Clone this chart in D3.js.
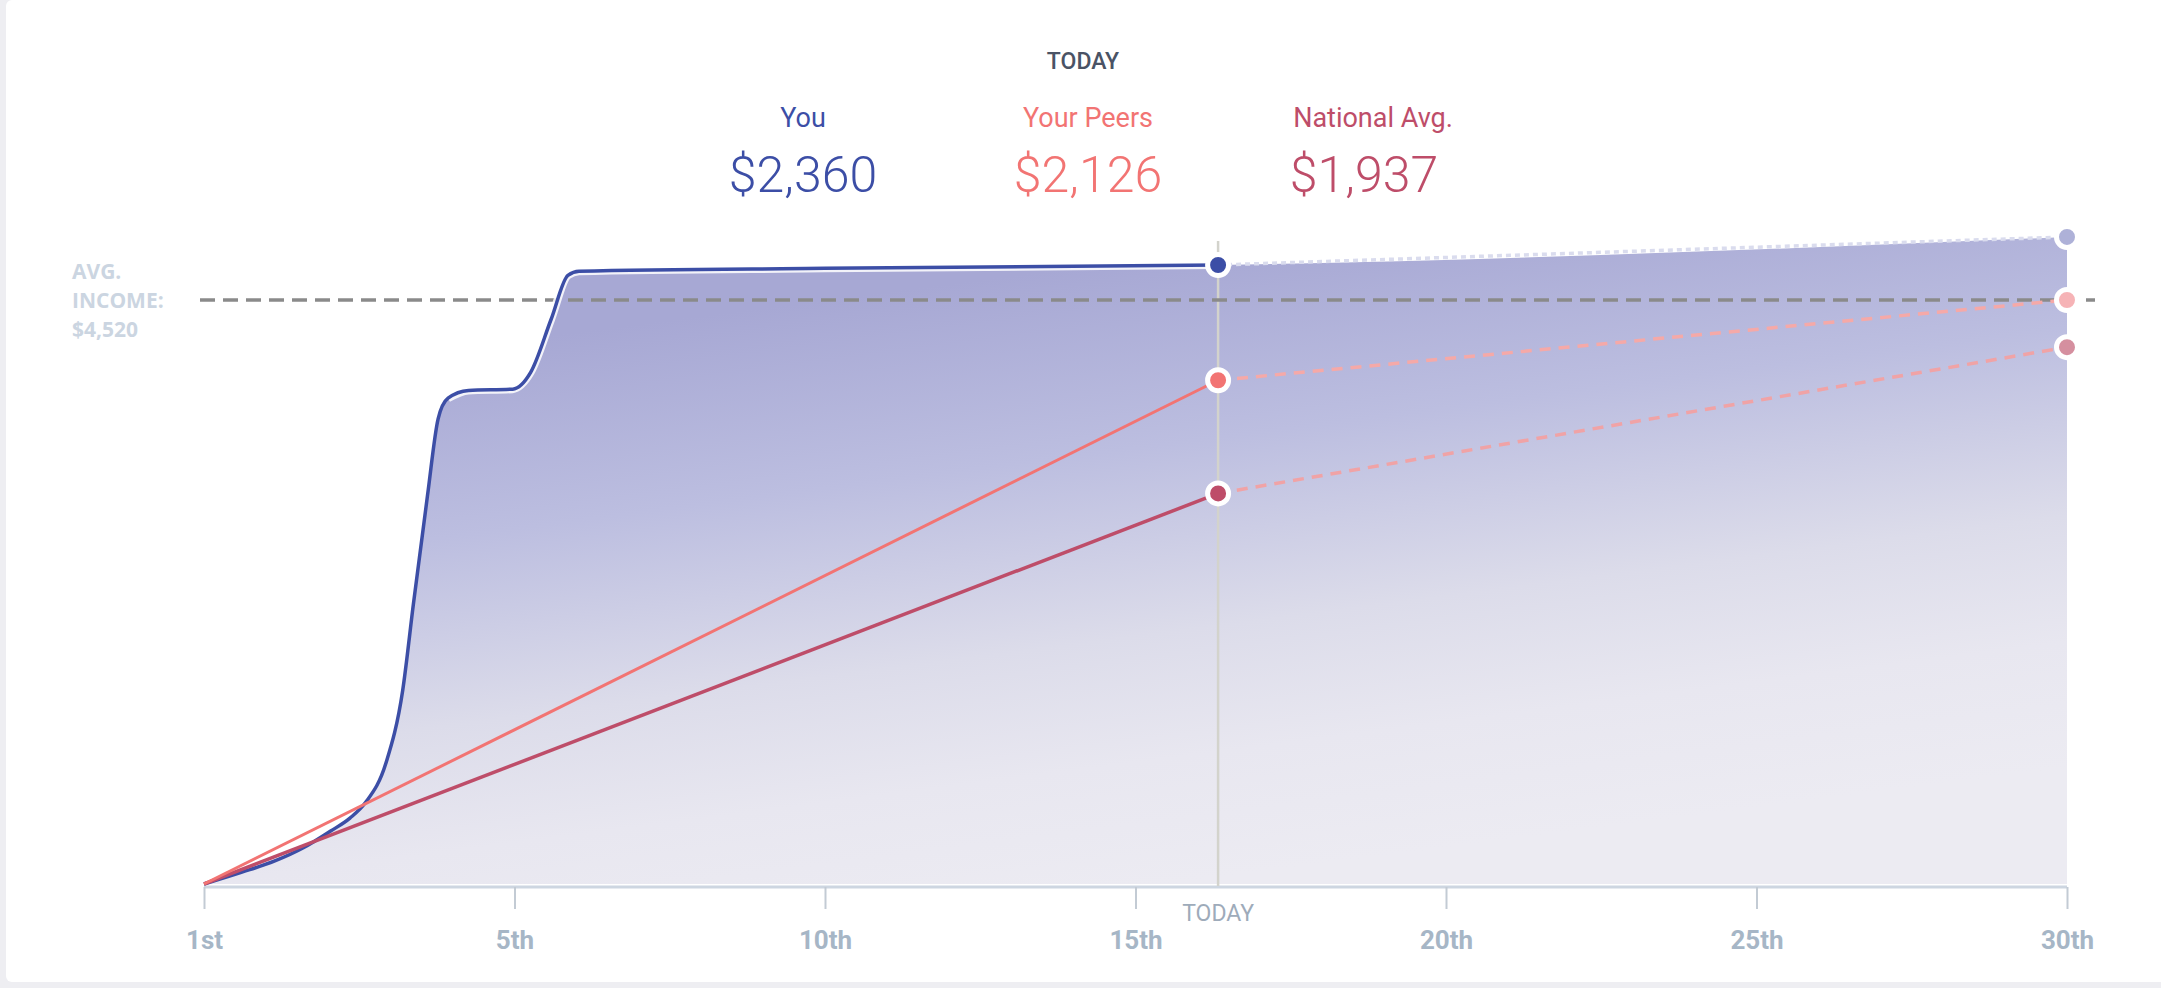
<!DOCTYPE html>
<html>
<head>
<meta charset="utf-8">
<script src="https://cdn.jsdelivr.net/npm/d3@7"></script>
<style>
  html, body { margin: 0; padding: 0; background: #eeeef2; }
  svg { display: block; }
</style>
</head>
<body>
<svg id="chart" width="2161" height="988"></svg>
<script>
// ---------- data ----------
const dayTicks = [0, 5, 10, 15, 20, 25, 30];
const tickLabels = ["1st", "5th", "10th", "15th", "20th", "25th", "30th"];
const todayDay = 16.33;
const endDay = 30;

const seriesNames = ["You", "Your Peers", "National Avg."];
const headerValues = [2360, 2126, 1937];
const avgIncome = 4520;

// "You" actual curve (day index, cumulative $)
const youDays   = [0, 0.6, 1.15, 1.6, 2.04, 2.35, 2.6, 2.93, 3.2, 3.37, 3.6, 3.77, 3.93, 4.26, 4.97, 5.26, 5.59, 5.86, 6.04, 10, 16.33];
const youValues = [0, 90, 180, 280, 410, 510, 630, 936, 1500, 2159, 3010, 3600, 3760, 3820, 3830, 3960, 4371, 4711, 4743, 4765, 4791];
const youProjected = [4791, 5008];

const peersValues = [0, 3899];
const peersProjected = [3899, 4520];
const nationalValues = [0, 3023];
const nationalProjected = [3023, 4155];

// ---------- setup ----------
const svg = d3.select("#chart");
const defs = svg.append("defs");

svg.append("rect").attr("x", 6).attr("y", 0).attr("width", 2161).attr("height", 982)
  .attr("rx", 6).attr("fill", "#ffffff");

const x = d3.scaleLinear().domain([0, 30]).range([204, 2067]);
const y = d3.scaleLinear().domain([0, avgIncome]).range([884, 300]);

const colYou = "#3c4ea6", colPeers = "#f27473", colNat = "#be4d69";

// gradient for area
const grad = defs.append("linearGradient").attr("id", "areaGrad")
  .attr("gradientUnits", "userSpaceOnUse")
  .attr("x1", 400).attr("y1", 355).attr("x2", 480).attr("y2", 973);
[[0, "#a7a8d4"], [0.3, "#bcbee0"], [0.6, "#dcdcea"], [0.8, "#e8e7f0"], [1, "#ecebf2"]]
  .forEach(([o, c]) => grad.append("stop").attr("offset", o).attr("stop-color", c));

// ---------- area ----------
const youPts = youDays.map((d, i) => [d, youValues[i]]);
const projPts = [[todayDay, youProjected[0]], [endDay, youProjected[1]]];
const allPts = youPts.concat(projPts.slice(1));

const area = d3.area().x(d => x(d[0])).y0(y(0)).y1(d => y(d[1])).curve(d3.curveMonotoneX);
svg.append("path").datum(allPts).attr("d", area).attr("fill", "url(#areaGrad)");

// ---------- axis ----------
const axisG = svg.append("g").attr("transform", "translate(0,887)");
const xAxis = d3.axisBottom(x).tickValues(dayTicks).tickSize(22).tickPadding(22)
  .tickFormat((d, i) => tickLabels[i]);
axisG.call(xAxis);
axisG.select(".domain").attr("stroke", "#cdd6e1").attr("stroke-width", 3)
  .attr("d", `M${x(0)},0H${x(30)}`);
axisG.selectAll(".tick line").attr("stroke", "#c3cbd4").attr("stroke-width", 2);
axisG.selectAll(".tick text").attr("fill", "#a6b6c6")
  .attr("font-family", "'Roboto', sans-serif")
  .attr("font-weight", "bold").attr("font-size", 26);

// today vertical line
svg.append("line").attr("x1", x(todayDay)).attr("x2", x(todayDay))
  .attr("y1", 241).attr("y2", 886).attr("stroke", "#d3d3cc").attr("stroke-width", 2.5);
svg.append("text").attr("x", x(todayDay)).attr("y", 921).attr("text-anchor", "middle")
  .attr("font-family", "'Roboto', sans-serif")
  .attr("font-size", 23).attr("fill", "#9eabba").text("TODAY");

// avg income dashed line
svg.append("line").attr("x1", 200).attr("x2", 2095).attr("y1", y(avgIncome)).attr("y2", y(avgIncome))
  .attr("stroke", "#8a8a8a").attr("stroke-width", 3.5).attr("stroke-dasharray", "15,8");
["AVG.", "INCOME:", "$" + d3.format(",")(avgIncome)].forEach((t, i) =>
  svg.append("text").attr("x", 72).attr("y", y(avgIncome) - 21 + i * 29)
    .attr("font-family", "'Open Sans', sans-serif").attr("font-weight", "bold")
    .attr("font-size", 21).attr("fill", "#cbd5e1").text(t));

// ---------- lines ----------
const line = d3.line().x(d => x(d[0])).y(d => y(d[1]));
const curveLine = d3.line().x(d => x(d[0])).y(d => y(d[1])).curve(d3.curveMonotoneX);

// projections
svg.append("path").datum(projPts).attr("d", line).attr("fill", "none")
  .attr("stroke", "#dadcee").attr("stroke-width", 3.5).attr("stroke-dasharray", "5,4");
svg.append("path").datum([[todayDay, peersProjected[0]], [endDay, peersProjected[1]]]).attr("d", line)
  .attr("fill", "none").attr("stroke", "#f5a9a8").attr("stroke-width", 3.5).attr("stroke-dasharray", "11,8");
svg.append("path").datum([[todayDay, nationalProjected[0]], [endDay, nationalProjected[1]]]).attr("d", line)
  .attr("fill", "none").attr("stroke", "#f0a3a6").attr("stroke-width", 3.5).attr("stroke-dasharray", "11,8");

// "You" line with a soft white highlight along its upper part
svg.append("path").datum(youPts.filter(d => d[0] >= 3.93)).attr("d", curveLine).attr("fill", "none")
  .attr("stroke", "#ffffff").attr("stroke-width", 8).attr("stroke-opacity", 0.85);
svg.append("path").datum(youPts).attr("d", curveLine).attr("fill", "none")
  .attr("stroke", colYou).attr("stroke-width", 3.5);

// actual peer / national lines (drawn over "You")
svg.append("path").datum([[0, nationalValues[0]], [todayDay, nationalValues[1]]]).attr("d", line)
  .attr("fill", "none").attr("stroke", colNat).attr("stroke-width", 3.5);
svg.append("path").datum([[0, peersValues[0]], [todayDay, peersValues[1]]]).attr("d", line)
  .attr("fill", "none").attr("stroke", colPeers).attr("stroke-width", 3);

// ---------- dots ----------
const dots = [
  [todayDay, youValues[youValues.length - 1], colYou],
  [todayDay, peersValues[1], colPeers],
  [todayDay, nationalValues[1], colNat],
  [endDay, youProjected[1], "#aeb1d8"],
  [endDay, peersProjected[1], "#f6b3b6"],
  [endDay, nationalProjected[1], "#d58f9f"]
];
svg.selectAll("circle.dot").data(dots).enter().append("circle").attr("class", "dot")
  .attr("cx", d => x(d[0])).attr("cy", d => y(d[1])).attr("r", 10.5)
  .attr("fill", d => d[2]).attr("stroke", "#ffffff").attr("stroke-width", 5);

// ---------- header ----------
svg.append("text").attr("x", 1083).attr("y", 69).attr("text-anchor", "middle")
  .attr("font-family", "'Roboto', sans-serif").attr("font-weight", 500)
  .attr("font-size", 23).attr("fill", "#4a5365").text("TODAY");

const hx = d3.scalePoint().domain(seriesNames).range([803, 1373]);
const hcols = [colYou, colPeers, colNat];
seriesNames.forEach((n, i) => {
  svg.append("text").attr("x", hx(n)).attr("y", 127).attr("text-anchor", "middle")
    .attr("font-family", "'Roboto', sans-serif")
    .attr("font-size", 27).attr("fill", hcols[i]).text(n);
  svg.append("text").attr("x", hx(n) - (i === 2 ? 9 : 0)).attr("y", 192).attr("text-anchor", "middle")
    .attr("font-family", "'Roboto', sans-serif").attr("font-weight", 300)
    .attr("font-size", 50).attr("fill", hcols[i]).text("$" + d3.format(",")(headerValues[i]));
});
</script>
</body>
</html>
